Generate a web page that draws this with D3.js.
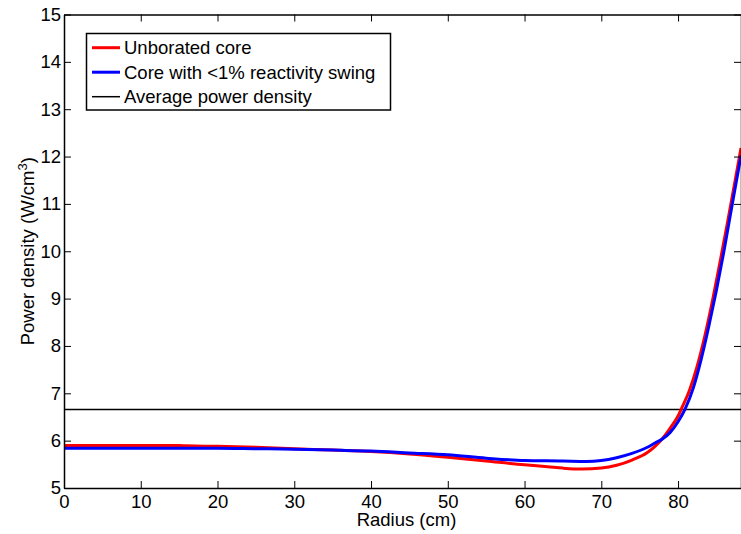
<!DOCTYPE html>
<html>
<head>
<meta charset="utf-8">
<script src="https://cdnjs.cloudflare.com/ajax/libs/d3/7.8.5/d3.min.js"></script>
<style>
  body { margin: 0; background: #fff; }
  svg { display: block; font-family: "Liberation Sans", Arial, sans-serif; }
</style>
</head>
<body>
<div id="chart"></div>
<script>
// radius (cm) and power density (W/cm^3)
var radiusRed = [0, 5, 10, 15, 16, 20, 25, 30, 35, 40, 45, 50, 55, 60, 63, 65, 67.5, 70, 72, 74, 76, 77, 78, 79, 80, 80.4, 81.5, 82.5, 83.5, 84.5, 85.5, 86.5, 87.5, 88.2];
var unborated = [5.90, 5.90, 5.90, 5.90, 5.89, 5.88, 5.86, 5.83, 5.80, 5.77, 5.72, 5.65, 5.57, 5.49, 5.45, 5.42, 5.40, 5.42, 5.48, 5.59, 5.75, 5.88, 6.05, 6.27, 6.52, 6.66, 7.07, 7.58, 8.22, 8.97, 9.80, 10.66, 11.55, 12.18];

var radiusBlue = [0, 10, 15, 20, 25, 30, 35, 40, 45, 50, 55, 60, 65, 68, 70, 72, 74, 76, 77, 78, 79, 80, 80.9, 82, 83, 84, 85, 86, 87, 88.2];
var lowSwing = [5.84, 5.84, 5.84, 5.84, 5.83, 5.82, 5.80, 5.78, 5.74, 5.70, 5.63, 5.58, 5.57, 5.56, 5.58, 5.64, 5.73, 5.86, 5.95, 6.04, 6.18, 6.40, 6.66, 7.12, 7.71, 8.41, 9.18, 10.02, 10.94, 12.02];

var avgPower = 6.66;

var xTicks = [0, 10, 20, 30, 40, 50, 60, 70, 80];
var yTicks = [5, 6, 7, 8, 9, 10, 11, 12, 13, 14, 15];
var legendLabels = ["Unborated core", "Core with <1% reactivity swing", "Average power density"];
var legendColors = ["#ff0000", "#0000ff", "#000000"];

var W = 741, H = 534;
var plotLeft = 64, plotRight = 741, plotTop = 14.5, plotBottom = 488;

var svg = d3.select("#chart").append("svg")
    .attr("width", W)
    .attr("height", H);

var x = d3.scaleLinear().domain([0, 88.2]).range([plotLeft, plotRight]);
var y = d3.scaleLinear().domain([5, 15]).range([plotBottom, plotTop]);

svg.append("clipPath").attr("id", "plotclip")
  .append("rect")
    .attr("x", plotLeft).attr("y", plotTop)
    .attr("width", plotRight - plotLeft).attr("height", plotBottom - plotTop);

var line = d3.line()
    .x(function(d) { return x(d[0]); })
    .y(function(d) { return y(d[1]); })
    .curve(d3.curveMonotoneX);

var plot = svg.append("g").attr("clip-path", "url(#plotclip)");

plot.append("line")
    .attr("x1", x(0)).attr("x2", x(88.2))
    .attr("y1", y(avgPower)).attr("y2", y(avgPower))
    .style("stroke", "#000")
    .style("stroke-width", 1.5);

plot.append("path")
    .datum(d3.zip(radiusRed, unborated))
    .attr("d", line)
    .style("fill", "none")
    .style("stroke", legendColors[0])
    .style("stroke-width", 3);

plot.append("path")
    .datum(d3.zip(radiusBlue, lowSwing))
    .attr("d", line)
    .style("fill", "none")
    .style("stroke", legendColors[1])
    .style("stroke-width", 3);

// axes with inward ticks, box style
function styleAxis(g) {
    g.selectAll("path.domain").style("stroke", "#000").style("stroke-width", 1.5);
    g.selectAll(".tick line").style("stroke", "#000").style("stroke-width", 1);
    g.selectAll(".tick text").style("font-size", "18.5px").style("fill", "#000")
        .style("font-family", "'Liberation Sans', Arial, sans-serif");
}

svg.append("g")
    .attr("transform", "translate(0," + plotBottom + ")")
    .call(d3.axisBottom(x).tickValues(xTicks).tickSizeInner(-7).tickSizeOuter(0).tickPadding(7))
    .call(styleAxis);

svg.append("g")
    .attr("transform", "translate(" + plotLeft + ",0)")
    .call(d3.axisLeft(y).tickValues(yTicks).tickSizeInner(-7).tickSizeOuter(0).tickPadding(3))
    .call(styleAxis);

svg.append("g")
    .attr("transform", "translate(0," + plotTop + ")")
    .call(d3.axisTop(x).tickValues(xTicks).tickSizeInner(-7).tickSizeOuter(0).tickFormat(""))
    .call(styleAxis);

svg.append("g")
    .attr("transform", "translate(" + plotRight + ",0)")
    .call(d3.axisRight(y).tickValues(yTicks).tickSizeInner(-7).tickSizeOuter(0).tickFormat(""))
    .call(styleAxis);

// axis titles
svg.append("text")
    .attr("x", (plotLeft + plotRight) / 2 + 4)
    .attr("y", 526)
    .attr("text-anchor", "middle")
    .style("font-size", "18.5px")
    .text("Radius (cm)");

var ylab = svg.append("text")
    .attr("transform", "translate(34," + ((plotTop + plotBottom) / 2) + ") rotate(-90)")
    .attr("text-anchor", "middle")
    .style("font-size", "18.5px");
ylab.append("tspan").text("Power density (W/cm");
ylab.append("tspan").attr("dy", -7).style("font-size", "13px").text("3");
ylab.append("tspan").attr("dy", 7).text(")");

// legend
var legend = svg.append("g");
legend.append("rect")
    .attr("x", 86.5).attr("y", 33.5)
    .attr("width", 304).attr("height", 76.5)
    .style("fill", "#fff")
    .style("stroke", "#000")
    .style("stroke-width", 1.5);

var rows = legend.selectAll("g.row")
    .data(legendLabels)
    .enter().append("g")
    .attr("class", "row")
    .attr("transform", function(d, i) { return "translate(0," + (47.7 + i * 24.5) + ")"; });

rows.append("line")
    .attr("x1", 92).attr("x2", 120)
    .attr("y1", 0).attr("y2", 0)
    .style("stroke", function(d, i) { return legendColors[i]; })
    .style("stroke-width", function(d, i) { return i < 2 ? 3 : 1.5; });

rows.append("text")
    .attr("x", 124)
    .attr("y", 0)
    .attr("dy", "0.35em")
    .style("font-size", "18.5px")
    .text(function(d) { return d; });
</script>
</body>
</html>
